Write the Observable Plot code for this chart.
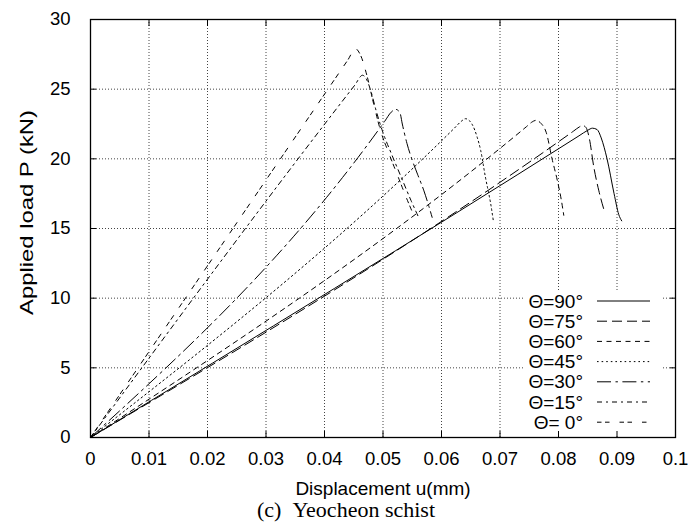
<!DOCTYPE html>
<html><head><meta charset="utf-8">
<script src="https://cdn.jsdelivr.net/npm/d3@7"></script>
<script src="https://cdn.jsdelivr.net/npm/@observablehq/plot@0.6"></script>
<style>
body{margin:0;background:#fff;}
#chart{width:688px;height:529px;}
</style></head><body><div id="chart"></div>
<script>
// ---- data ----
const xTicks = [0, 0.01, 0.02, 0.03, 0.04, 0.05, 0.06, 0.07, 0.08, 0.09, 0.1];
const xTickLabels = ["0", "0.01", "0.02", "0.03", "0.04", "0.05", "0.06", "0.07", "0.08", "0.09", "0.1"];
const yTicks = [0, 5, 10, 15, 20, 25, 30];
const yTickLabels = ["0", "5", "10", "15", "20", "25", "30"];
const seriesLabels = ["Θ=90°", "Θ=75°", "Θ=60°", "Θ=45°", "Θ=30°", "Θ=15°", "Θ= 0°"];

const u90 = [0, 0.0835, 0.0850, 0.0858, 0.0866, 0.0873, 0.0883, 0.0895, 0.0903, 0.0908];
const p90 = [0, 21.65, 22.05, 22.2, 22.1, 21.5, 20.0, 17.5, 16.0, 15.55];
const u75 = [0, 0.0826, 0.0836, 0.0841, 0.0847, 0.0853, 0.0860, 0.0869, 0.0878];
const p75 = [0, 22.0, 22.3, 22.4, 22.25, 21.4, 19.5, 17.7, 16.3];
const u60 = [0, 0.0745, 0.0755, 0.0761, 0.0770, 0.0779, 0.0789, 0.0798, 0.0805, 0.0809];
const p60 = [0, 22.3, 22.65, 22.76, 22.55, 21.9, 20.0, 18.45, 17.0, 15.95];
const u45 = [0, 0.0622, 0.0634, 0.0641, 0.0652, 0.0661, 0.0667, 0.0675, 0.0684, 0.0689];
const p45 = [0, 22.2, 22.7, 22.88, 22.5, 21.55, 20.6, 18.7, 16.8, 15.45];
const u30 = [0, 0.0503, 0.0514, 0.0522, 0.0529, 0.0533, 0.0541, 0.0550, 0.0559, 0.0570, 0.0578, 0.0584];
const p30 = [0, 22.7, 23.35, 23.55, 23.3, 22.5, 21.1, 19.9, 18.9, 17.7, 16.65, 15.8];
const u15 = [0, 0.0452, 0.0465, 0.0473, 0.0479, 0.0488, 0.0499, 0.0515, 0.0532, 0.0548, 0.0562];
const p15 = [0, 25.3, 26.0, 25.6, 24.9, 23.5, 22.0, 20.3, 18.6, 17.0, 15.7];
const u0 = [0, 0.0440, 0.0453, 0.0462, 0.0473, 0.0484, 0.0496, 0.0510, 0.0525, 0.0540, 0.0552];
const p0 = [0, 27.1, 27.9, 27.4, 25.9, 23.95, 22.0, 20.4, 18.8, 17.2, 16.0];

// ---- styles ----
const dashes = [null, "10,5", "5,4.5", "1.6,3", "14,4.5,2.4,4.5", "5,4,2,4", "4.5,3.5,4.5,10"];
const seriesU = [u90, u75, u60, u45, u30, u15, u0];
const seriesP = [p90, p75, p60, p45, p30, p15, p0];
const series = seriesLabels.map((label, k) => ({
  label, dash: dashes[k],
  pts: seriesU[k].map((u, i) => ({u, p: seriesP[k][i]}))
}));

const sans = "'Liberation Sans', Arial, Helvetica, sans-serif";
const fmtX = d => xTickLabels[xTicks.findIndex(t => Math.abs(t - d) < 1e-9)];
const fmtY = d => yTickLabels[yTicks.indexOf(d)];

const svg = Plot.plot({
  width: 688, height: 529,
  marginLeft: 90, marginRight: 13, marginTop: 19, marginBottom: 92,
  style: {fontFamily: sans, fontSize: "18.5px", background: "#fff", color: "#000"},
  x: {domain: [0, 0.1]},
  y: {domain: [0, 30]},
  marks: [
    Plot.gridX(xTicks.slice(1, -1), {stroke: "#444", strokeOpacity: 1, strokeDasharray: "1,2"}),
    Plot.gridY(yTicks.slice(1, -1), {stroke: "#444", strokeOpacity: 1, strokeDasharray: "1,2"}),
    ...series.map(s => Plot.line(s.pts, {x: "u", y: "p", stroke: "#000", strokeWidth: 1,
      strokeDasharray: s.dash ?? undefined, curve: "monotone-x"})),
    Plot.frame({stroke: "#000", strokeWidth: 1.3}),
    Plot.axisX(xTicks, {anchor: "bottom", tickSize: -6, tickPadding: 20, tickFormat: fmtX, label: null}),
    Plot.axisX(xTicks, {anchor: "top", tickSize: -6, tickFormat: () => "", label: null}),
    Plot.axisY(yTicks, {anchor: "left", tickSize: -6, tickPadding: 26, tickFormat: fmtY, label: null}),
    Plot.axisY(yTicks, {anchor: "right", tickSize: -6, tickFormat: () => "", label: null}),
    Plot.text(["Displacement u(mm)"], {frameAnchor: "bottom", lineAnchor: "middle", textAnchor: "middle",
      dy: 51, fontSize: 19}),
    Plot.text(["(c)\u2002Yeocheon schist"], {frameAnchor: "bottom", lineAnchor: "middle", textAnchor: "middle",
      dx: -37, dy: 72, fontSize: 22, fontFamily: "'Liberation Serif', 'Times New Roman', serif"}),
    Plot.text(["Applied load P (kN)"], {frameAnchor: "left", lineAnchor: "middle", textAnchor: "middle",
      dx: -64, dy: -16, rotate: -90, fontSize: 19})
  ]
});

// stretch the rotated y label to the length seen in the reference
const yLab = Array.from(svg.querySelectorAll("text")).find(t => t.textContent === "Applied load P (kN)");
if (yLab) { yLab.setAttribute("textLength", 205); yLab.setAttribute("lengthAdjust", "spacingAndGlyphs"); }

// legend (layout in pixels)
const root = d3.select(svg);
const firstLine = svg.querySelector('g[aria-label="line"]');
root.insert("rect", () => firstLine)
  .attr("x", 523).attr("y", 290).attr("width", 140).attr("height", 146)
  .attr("fill", "#fff");
const lg = root.append("g").attr("font-family", sans).attr("font-size", 19);
series.forEach((s, k) => {
  const y = 301 + k * 20.2;
  lg.append("text").attr("x", 583).attr("y", y).attr("dy", "0.35em")
    .attr("text-anchor", "end").attr("fill", "#000").text(s.label);
  lg.append("line").attr("x1", 597).attr("x2", 650).attr("y1", y).attr("y2", y)
    .attr("stroke", "#000").attr("stroke-width", 1)
    .attr("stroke-dasharray", s.dash ?? null);
});
document.getElementById("chart").appendChild(svg);
</script></body></html>
